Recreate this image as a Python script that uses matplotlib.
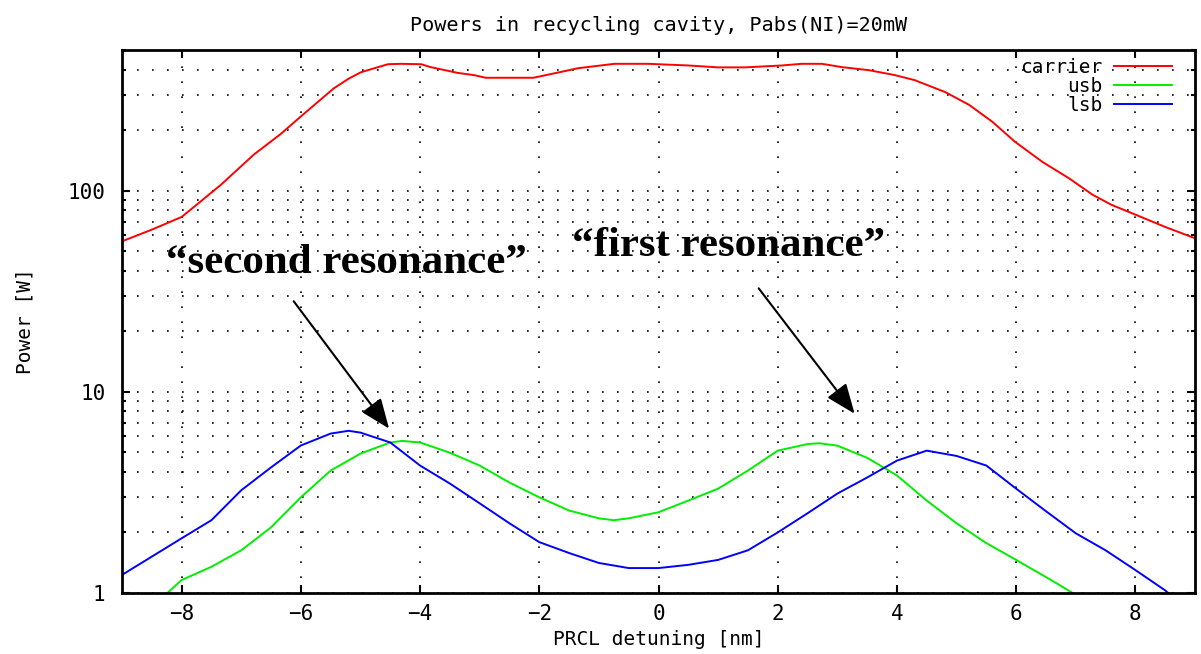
import numpy as np
import matplotlib
matplotlib.use("Agg")
from matplotlib import pyplot as plt
from matplotlib.ticker import LogLocator, NullFormatter, FixedLocator

# PRCL detuning [nm] and powers [W]
carrier_x = [-9.0, -8.5, -8.0, -7.73, -7.34, -6.79, -6.34, -5.97, -5.66, -5.45, -5.2, -4.99, -4.54,
             -4.32, -3.98, -3.82, -3.37, -3.09, -2.9, -2.5, -2.1, -1.8, -1.35, -0.74, -0.17,
             0.5, 1.0, 1.45, 2.07, 2.4, 2.74, 3.08, 3.53, 3.97, 4.30, 4.81, 5.21, 5.60, 5.98,
             6.44, 6.89, 7.28, 7.6, 8.0, 8.5, 9.0]
carrier_y = [56, 64, 74, 86, 107, 151, 191, 238, 285, 322, 360, 388, 425,
             427, 425, 411, 385, 375, 364, 364, 364, 380, 406, 427, 427,
             419, 410, 410, 419, 427, 427, 411, 397, 375, 354, 309, 267, 220, 175,
             139, 115, 95.5, 85, 76, 66, 58]

usb_x = [-8.24, -8.0, -7.5, -7.0, -6.5, -6.0, -5.5, -5.0, -4.5, -4.3, -4.0, -3.5, -3.0,
         -2.5, -2.0, -1.5, -1.0, -0.75, -0.5, 0.0, 0.5, 1.0, 1.5, 2.0, 2.5, 2.7, 3.0,
         3.5, 4.0, 4.5, 5.0, 5.5, 6.0, 6.5, 6.95]
usb_y = [1.0, 1.16, 1.35, 1.63, 2.12, 2.99, 4.06, 4.93, 5.6, 5.7, 5.6, 4.98, 4.3,
         3.54, 2.99, 2.57, 2.35, 2.3, 2.35, 2.52, 2.88, 3.3, 4.06, 5.1, 5.5, 5.55, 5.4,
         4.7, 3.84, 2.88, 2.22, 1.77, 1.46, 1.20, 1.0]

lsb_x = [-9.0, -8.0, -7.5, -7.0, -6.5, -6.0, -5.5, -5.2, -5.0, -4.5, -4.0, -3.5, -3.0,
         -2.5, -2.0, -1.5, -1.0, -0.5, 0.0, 0.5, 1.0, 1.5, 2.0, 2.5, 3.0, 3.5, 4.0,
         4.5, 5.0, 5.5, 6.0, 6.5, 7.0, 7.5, 8.0, 8.5, 8.55]
lsb_y = [1.23, 1.87, 2.30, 3.24, 4.21, 5.41, 6.2, 6.4, 6.27, 5.6, 4.30, 3.50, 2.79,
         2.22, 1.79, 1.58, 1.41, 1.33, 1.33, 1.38, 1.46, 1.63, 2.0, 2.49, 3.12, 3.75, 4.55,
         5.1, 4.8, 4.3, 3.3, 2.55, 1.98, 1.63, 1.30, 1.03, 1.0]

x_ticks = [-8, -6, -4, -2, 0, 2, 4, 6, 8]
y_ticks = [1, 10, 100]

plt.rcParams['font.family'] = "DejaVu Sans Mono"

fig = plt.figure(figsize=(12.01, 6.54), dpi=100)
ax = fig.add_axes([0.1016, 0.0933, 0.8934, 0.8302])

ax.plot(carrier_x, carrier_y, color='#ff0000', lw=1.4, label='carrier')
ax.plot(usb_x, usb_y, color='#00ee00', lw=1.4, label='usb')
ax.plot(lsb_x, lsb_y, color='#0000ff', lw=1.4, label='lsb')

ax.set_yscale('log')
ax.set_xlim(-9, 9)
ax.set_ylim(1, 500)
ax.xaxis.set_major_locator(FixedLocator(x_ticks))
ax.yaxis.set_major_locator(FixedLocator(y_ticks))
ax.set_yticklabels([str(v) for v in y_ticks])
ax.yaxis.set_minor_locator(LogLocator(base=10, subs=np.arange(2, 10)))
ax.yaxis.set_minor_formatter(NullFormatter())
ax.set_xticklabels([str(v).replace('-', '\u2212') for v in x_ticks])

ax.tick_params(which='both', direction='in', top=True, right=True, labelsize=15, width=1.5)
ax.tick_params(which='major', length=6)
ax.tick_params(axis='x', which='major', pad=8)
ax.tick_params(axis='y', which='major', pad=12)
ax.tick_params(which='minor', length=3)
for s in ax.spines.values():
    s.set_linewidth(2)

ax.grid(True, which='major', axis='both', color='black', linestyle=(0, (1, 8)), lw=1.2)
ax.grid(True, which='minor', axis='y', color='black', linestyle=(0, (1, 8)), lw=1.2)

ax.set_title('Powers in recycling cavity, Pabs(NI)=20mW', fontsize=14.5, pad=14)
ax.set_xlabel('PRCL detuning [nm]', fontsize=14, labelpad=4)
ax.set_ylabel('Power [W]', fontsize=14, labelpad=24)

leg = ax.legend(loc='upper right', bbox_to_anchor=(0.986, 1.0), frameon=False,
                markerfirst=False, fontsize=14, handlelength=3.0, labelspacing=0.0,
                borderaxespad=0.0, handletextpad=0.6)
for t in leg.get_texts():
    t.set_ha('right')

serif = dict(family='Liberation Serif', weight='bold', fontsize=31)
ax.text(-5.24, 43.5, '\u201csecond resonance\u201d', ha='center', va='center', **serif)
ax.text(1.18, 52.8, '\u201cfirst resonance\u201d', ha='center', va='center', **serif)

arrow = dict(arrowstyle='-|>,head_length=0.8,head_width=0.32', color='black', lw=1.5,
             mutation_scale=23, shrinkA=0, shrinkB=0)
ax.annotate('', xy=(-4.52, 6.56), xytext=(-6.12, 28.2), arrowprops=arrow)
ax.annotate('', xy=(3.29, 7.78), xytext=(1.68, 32.7), arrowprops=arrow)

plt.savefig('out.png', dpi=100)
